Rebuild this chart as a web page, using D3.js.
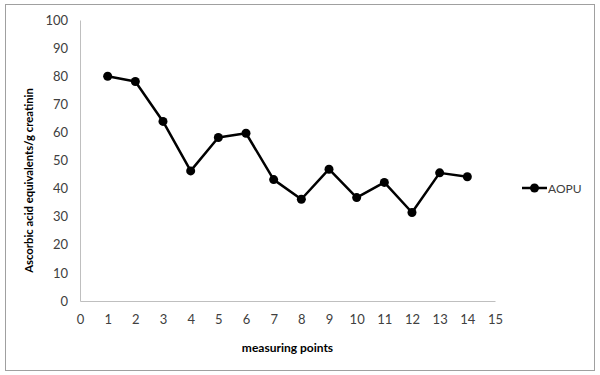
<!DOCTYPE html>
<html>
<head>
<meta charset="utf-8">
<script src="https://cdn.jsdelivr.net/npm/d3@7"></script>
<style>
  body { margin: 0; background: #fff; }
  svg text { font-family: Lato, "Open Sans", sans-serif; fill: #404040; }
</style>
</head>
<body>
<div id="chart"></div>
<script>
// measuring points and AOPU values
const points = [1, 2, 3, 4, 5, 6, 7, 8, 9, 10, 11, 12, 13, 14];
const aopu = [80, 78.1, 63.9, 46.3, 58.2, 59.7, 43.2, 36.2, 46.9, 36.8, 42.2, 31.5, 45.6, 44.2];
const yTicks = [0, 10, 20, 30, 40, 50, 60, 70, 80, 90, 100];
const xTicks = d3.range(0, 16);
const seriesName = 'AOPU';

const width = 600, height = 375;
const margin = {top: 20, right: 105, bottom: 74, left: 80};

const svg = d3.select('#chart').append('svg')
  .attr('width', width)
  .attr('height', height);

// chart frame
svg.append('rect')
  .attr('x', 5.5).attr('y', 4.5)
  .attr('width', 589).attr('height', 366)
  .attr('fill', '#fff')
  .attr('stroke', '#a0a0a0');

const x = d3.scaleLinear().domain([0, 15]).range([margin.left, width - margin.right]);
const y = d3.scaleLinear().domain([0, 100]).range([height - margin.bottom, margin.top]);

// axes (no tick marks, grey lines)
const xAxis = svg.append('g')
  .attr('transform', `translate(0,${y(0)})`)
  .call(d3.axisBottom(x).tickValues(xTicks).tickSize(0).tickPadding(14));
const yAxis = svg.append('g')
  .attr('transform', `translate(${x(0)},0)`)
  .call(d3.axisLeft(y).tickValues(yTicks).tickSize(0).tickPadding(12));

[xAxis, yAxis].forEach(g => {
  g.select('.domain').attr('stroke', '#bfbfbf').attr('stroke-width', 1);
  g.selectAll('text').attr('font-size', 13).attr('fill', '#404040')
    .style('font-family', 'Lato, sans-serif');
});

// axis titles
svg.append('text')
  .attr('x', (x(0) + x(15)) / 2)
  .attr('y', 352)
  .attr('text-anchor', 'middle')
  .attr('font-size', 12)
  .attr('font-weight', 'bold')
  .style('fill', '#000')
  .text('measuring points');

svg.append('text')
  .attr('transform', `translate(33,${(y(0) + y(100)) / 2 + 20}) rotate(-90)`)
  .attr('text-anchor', 'middle')
  .attr('font-size', 11.3)
  .attr('font-weight', 'bold')
  .style('fill', '#000')
  .text('Ascorbic acid equivalents/g creatinin');

// series line and markers
const data = points.map((p, i) => ({p, v: aopu[i]}));

svg.append('path')
  .datum(data)
  .attr('fill', 'none')
  .attr('stroke', '#000')
  .attr('stroke-width', 2.5)
  .attr('stroke-linejoin', 'round')
  .attr('d', d3.line().x(d => x(d.p)).y(d => y(d.v)));

svg.append('g')
  .selectAll('circle')
  .data(data)
  .join('circle')
  .attr('cx', d => x(d.p))
  .attr('cy', d => y(d.v))
  .attr('r', 4.5)
  .attr('fill', '#000');

// legend
const lg = svg.append('g').attr('transform', 'translate(522,188)');
lg.append('line')
  .attr('x1', 0).attr('x2', 25)
  .attr('stroke', '#000').attr('stroke-width', 2.5);
lg.append('circle').attr('cx', 12.5).attr('r', 4.5).attr('fill', '#000');
lg.append('text')
  .attr('x', 26).attr('y', 4.5)
  .attr('font-size', 12)
  .text(seriesName);
</script>
</body>
</html>
